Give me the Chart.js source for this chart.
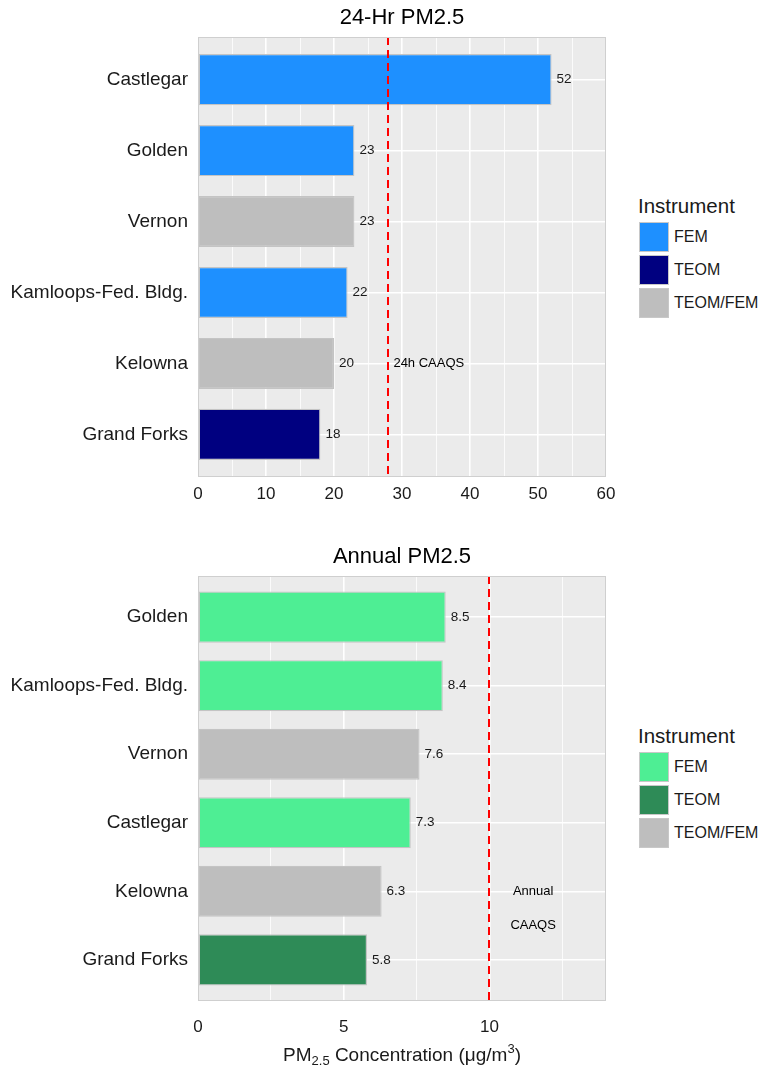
<!DOCTYPE html>
<html>
<head>
<meta charset="utf-8">
<script src="https://cdn.jsdelivr.net/npm/chart.js@4.4.1/dist/chart.umd.min.js"></script>
<style>
  html, body { margin: 0; padding: 0; background: #ffffff; }
  body { position: relative; width: 769px; height: 1069px; overflow: hidden;
         font-family: "Liberation Sans", Arial, sans-serif; color: #1a1a1a; }
  canvas { position: absolute; left: 0; }
  #chart24 { top: 0; }
  #chartAnn { top: 539px; }
  .lg-title { position: absolute; font-size: 20.5px; line-height: 23px; white-space: nowrap; }
  .lg-key { position: absolute; width: 28px; height: 28px; border: 1px solid #c8c8c8; }
  .lg-label { position: absolute; font-size: 16px; line-height: 30px; white-space: nowrap; }
</style>
</head>
<body>
<canvas id="chart24" width="620" height="510"></canvas>
<canvas id="chartAnn" width="620" height="530"></canvas>
<div id="legend24"></div>
<div id="legendAnn"></div>
<script>
// ---- 24-hour PM2.5 (98th percentile) by station ----
const sites24 = ['Castlegar', 'Golden', 'Vernon', 'Kamloops-Fed. Bldg.', 'Kelowna', 'Grand Forks'];
const pm24 = [52, 23, 23, 22, 20, 18];
const inst24 = ['FEM', 'FEM', 'TEOM/FEM', 'FEM', 'TEOM/FEM', 'TEOM'];
const majorTicks24 = [0, 10, 20, 30, 40, 50, 60];
const minorTicks24 = [5, 15, 25, 35, 45, 55];
const caaqs24 = 28;

// ---- Annual PM2.5 by station ----
const sitesAnn = ['Golden', 'Kamloops-Fed. Bldg.', 'Vernon', 'Castlegar', 'Kelowna', 'Grand Forks'];
const pmAnn = [8.5, 8.4, 7.6, 7.3, 6.3, 5.8];
const instAnn = ['FEM', 'FEM', 'TEOM/FEM', 'FEM', 'TEOM/FEM', 'TEOM'];
const majorTicksAnn = [0, 5, 10];
const minorTicksAnn = [2.5, 7.5, 12.5];
const caaqsAnn = 10;

// ---- Instrument types and their fills in each panel ----
const instruments = ['FEM', 'TEOM', 'TEOM/FEM'];
const fill24 = ['#1E90FF', '#000080', '#BEBEBE'];
const fillAnn = ['#4EEE94', '#2E8B57', '#BEBEBE'];

const FONT = '"Liberation Sans", Arial, sans-serif';
const INK = '#1a1a1a';
const PANEL_BG = '#EBEBEB';

// Panel background, value labels, CAAQS reference line and optional x-axis title
const panelPlugin = {
  id: 'panel',
  beforeDraw(chart) {
    const a = chart.chartArea, ctx = chart.ctx;
    ctx.save();
    ctx.fillStyle = PANEL_BG;
    ctx.fillRect(a.left, a.top, a.right - a.left, a.bottom - a.top);
    ctx.restore();
  },
  afterDatasetsDraw(chart, args, o) {
    const a = chart.chartArea, ctx = chart.ctx;
    const xs = chart.scales.x, ys = chart.scales.y;
    const meta = chart.getDatasetMeta(0);
    const values = chart.data.datasets[0].data;
    ctx.save();
    // value labels at the bar ends
    ctx.font = '13.5px ' + FONT;
    ctx.fillStyle = INK;
    ctx.textAlign = 'left';
    ctx.textBaseline = 'middle';
    meta.data.forEach((bar, i) => {
      ctx.fillText(o.fmt(values[i].x), bar.x + 5, bar.y);
    });
    // reference standard line
    const rx = Math.round(xs.getPixelForValue(o.refValue));
    ctx.strokeStyle = '#FF0000';
    ctx.lineWidth = 2;
    ctx.setLineDash([8, 5]);
    ctx.beginPath();
    ctx.moveTo(rx, a.top);
    ctx.lineTo(rx, a.bottom);
    ctx.stroke();
    ctx.setLineDash([]);
    // reference label
    ctx.font = '13px ' + FONT;
    ctx.fillStyle = '#000';
    o.refText.forEach(t => {
      const px = xs.getPixelForValue(t.x) + (t.dx || 0);
      ctx.textAlign = t.align;
      ctx.fillText(t.text, px, ys.getPixelForValue(t.y));
    });
    // panel outline
    ctx.strokeStyle = '#CFCFCF';
    ctx.lineWidth = 1;
    ctx.strokeRect(a.left + 0.5, a.top + 0.5, a.right - a.left - 1, a.bottom - a.top - 1);
    ctx.restore();
  },
  afterDraw(chart, args, o) {
    if (!o.xTitle) return;
    const a = chart.chartArea, ctx = chart.ctx;
    const big = 19, small = 13;
    const parts = [
      { t: 'PM', s: big, dy: 0 },
      { t: '2.5', s: small, dy: 4 },
      { t: ' Concentration (\u03BCg/m', s: big, dy: 0 },
      { t: '3', s: small, dy: -8 },
      { t: ')', s: big, dy: 0 }
    ];
    ctx.save();
    ctx.fillStyle = INK;
    ctx.textBaseline = 'alphabetic';
    ctx.textAlign = 'left';
    let total = 0;
    parts.forEach(p => { ctx.font = p.s + 'px ' + FONT; p.w = ctx.measureText(p.t).width; total += p.w; });
    let x = (a.left + a.right) / 2 - total / 2;
    const base = o.xTitleBaseline;
    parts.forEach(p => {
      ctx.font = p.s + 'px ' + FONT;
      ctx.fillText(p.t, x, base + p.dy);
      x += p.w;
    });
    ctx.restore();
  }
};

function makePanel(id, p) {
  const colors = p.inst.map(k => p.fills[instruments.indexOf(k)]);
  const points = p.values.map((v, i) => ({ x: v, y: i + 1 }));
  const tickList = p.majors.concat(p.minors).sort((a, b) => a - b);
  return new Chart(document.getElementById(id), {
    type: 'bar',
    data: {
      datasets: [{
        data: points,
        backgroundColor: colors,
        borderColor: '#C4C4C4',
        borderWidth: 1.2,
        borderSkipped: false,
        categoryPercentage: 1,
        barPercentage: p.barPct
      }]
    },
    options: {
      indexAxis: 'y',
      responsive: false,
      animation: false,
      events: [],
      layout: { padding: { left: 0, right: 14, top: 0, bottom: 0 } },
      scales: {
        x: {
          type: 'linear',
          min: 0,
          max: p.xMax,
          offset: false,
          afterBuildTicks: s => { s.ticks = tickList.map(v => ({ value: v })); },
          afterFit: s => { s.height = p.xAxisHeight; s.paddingLeft = 0; s.paddingRight = 0; },
          border: { display: false },
          grid: {
            color: '#FFFFFF',
            offset: false,
            drawTicks: false,
            lineWidth: c => (c.tick && p.majors.includes(c.tick.value)) ? 1.6 : 0.8
          },
          ticks: {
            autoSkip: false,
            maxRotation: 0,
            padding: p.xTickPad,
            color: INK,
            font: { family: FONT, size: 17 },
            callback: v => p.majors.includes(v) ? String(v) : ''
          }
        },
        y: {
          type: 'linear',
          reverse: true,
          offset: false,
          min: 0.4,
          max: p.sites.length + 0.6,
          afterBuildTicks: s => { s.ticks = p.sites.map((n, i) => ({ value: i + 1 })); },
          afterFit: s => { s.width = 198; s.paddingTop = 0; s.paddingBottom = 0; },
          border: { display: false },
          grid: { color: '#FFFFFF', lineWidth: 1.6, drawTicks: false, offset: false },
          ticks: {
            autoSkip: false,
            padding: 10,
            color: INK,
            font: { family: FONT, size: 19 },
            callback: v => p.sites[v - 1]
          }
        }
      },
      plugins: {
        legend: { display: false },
        tooltip: { enabled: false },
        title: {
          display: true,
          text: p.title,
          fullSize: false,
          color: '#000',
          font: { family: FONT, size: 22, weight: 'normal' },
          padding: { top: 5, bottom: 5.6 }
        },
        panel: {
          fmt: p.fmt,
          refValue: p.ref,
          refText: p.refText,
          xTitle: p.xTitle,
          xTitleBaseline: p.xTitleBaseline
        }
      }
    },
    plugins: [panelPlugin]
  });
}

function makeLegend(id, top, fills) {
  const host = document.getElementById(id);
  const title = document.createElement('div');
  title.className = 'lg-title';
  title.textContent = 'Instrument';
  title.style.left = '638px';
  title.style.top = top + 'px';
  host.appendChild(title);
  instruments.forEach((name, i) => {
    const y = top + 28 + i * 33.2;
    const key = document.createElement('div');
    key.className = 'lg-key';
    key.style.left = '639px';
    key.style.top = y + 'px';
    key.style.background = fills[i];
    host.appendChild(key);
    const lab = document.createElement('div');
    lab.className = 'lg-label';
    lab.textContent = name;
    lab.style.left = '674px';
    lab.style.top = y + 'px';
    host.appendChild(lab);
  });
}

makePanel('chart24', {
  title: '24-Hr PM2.5',
  sites: sites24, values: pm24, inst: inst24, fills: fill24,
  xMax: 60, majors: majorTicks24, minors: minorTicks24,
  ref: caaqs24,
  refText: [{ text: '24h CAAQS', x: caaqs24, dx: 5, y: 5, align: 'left' }],
  fmt: v => String(v),
  barPct: 0.72,
  xAxisHeight: 33, xTickPad: 7,
  xTitle: false
});

makePanel('chartAnn', {
  title: 'Annual PM2.5',
  sites: sitesAnn, values: pmAnn, inst: instAnn, fills: fillAnn,
  xMax: 14, majors: majorTicksAnn, minors: minorTicksAnn,
  ref: caaqsAnn,
  refText: [
    { text: 'Annual', x: 11.5, y: 5, align: 'center' },
    { text: 'CAAQS', x: 11.5, y: 5.5, align: 'center' }
  ],
  fmt: v => v.toFixed(1),
  barPct: 0.745,
  xAxisHeight: 68, xTickPad: 16,
  xTitle: true, xTitleBaseline: 522
});

makeLegend('legend24', 194, fill24);
makeLegend('legendAnn', 724, fillAnn);
</script>
</body>
</html>
